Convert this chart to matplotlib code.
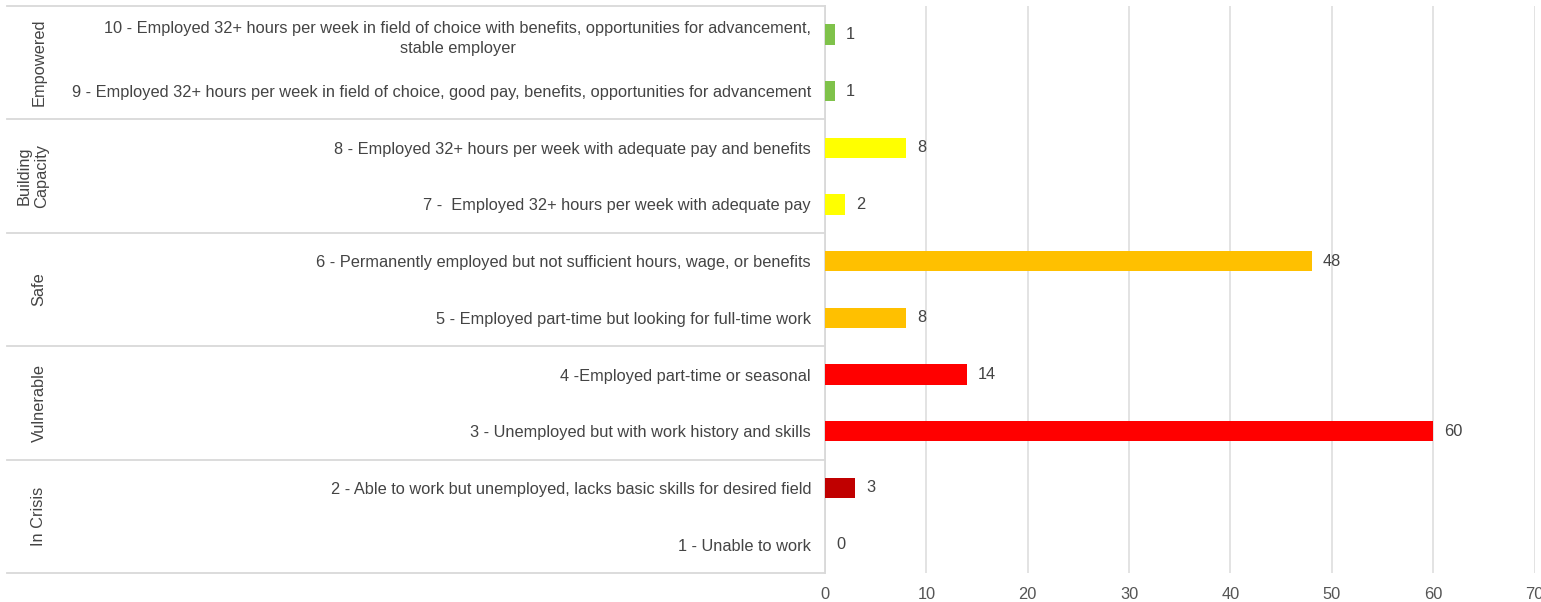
import matplotlib
matplotlib.use("Agg")
import matplotlib.pyplot as plt
import matplotlib.transforms as mtransforms

# Employment scale, level 1 at the bottom
levels = [
    "1 - Unable to work",
    "2 - Able to work but unemployed, lacks basic skills for desired field",
    "3 - Unemployed but with work history and skills",
    "4 -Employed part-time or seasonal",
    "5 - Employed part-time but looking for full-time work",
    "6 - Permanently employed but not sufficient hours, wage, or benefits",
    "7 -  Employed 32+ hours per week with adequate pay",
    "8 - Employed 32+ hours per week with adequate pay and benefits",
    "9 - Employed 32+ hours per week in field of choice, good pay, benefits, opportunities for advancement",
    "10 - Employed 32+ hours per week in field of choice with benefits, opportunities for advancement,\nstable employer",
]
counts = [0, 3, 60, 14, 8, 48, 2, 8, 1, 1]

groups = ["In Crisis", "Vulnerable", "Safe", "Building\nCapacity", "Empowered"]
group_sizes = [2, 2, 2, 2, 2]
group_colors = ["#c00000", "#ff0000", "#ffc000", "#ffff00", "#7fc24a"]

x_ticks = [0, 10, 20, 30, 40, 50, 60, 70]

TEXT = "#444444"
LINE = "#d9d9d9"
FS = 11.8

plt.rcParams["font.family"] = ["Liberation Sans", "DejaVu Sans"]

W, H = 1541, 602
fig = plt.figure(figsize=(W / 100, H / 100), dpi=100)
left, right, top, bottom = 825, 1534.5, 6, 573
ax = fig.add_axes([left / W, 1 - bottom / H, (right - left) / W, (bottom - top) / H])

bar_colors = []
for color, size in zip(group_colors, group_sizes):
    bar_colors += [color] * size

ypos = list(range(len(levels)))
ax.barh(ypos, counts, height=0.36, color=bar_colors, zorder=3)

for y, v in zip(ypos, counts):
    ax.annotate(str(v), (v, y), xytext=(8, 0), textcoords="offset points",
                va="center", ha="left", fontsize=FS, color=TEXT)

ax.set_xlim(0, 70)
ax.set_ylim(-0.5, len(levels) - 0.5)
ax.set_xticks(x_ticks)
ax.set_xticklabels([str(t) for t in x_ticks], fontsize=FS, color="#555555")
ax.set_yticks(ypos)
ax.set_yticklabels(levels, fontsize=FS, color=TEXT, multialignment="center",
                   linespacing=1.4)
ax.tick_params(axis="both", length=0)
ax.tick_params(axis="x", pad=10)
ax.tick_params(axis="y", pad=10)

ax.xaxis.grid(True, color="#e0e0e0", linewidth=1.3, zorder=0)
for side in ["top", "right", "bottom"]:
    ax.spines[side].set_visible(False)
ax.spines["left"].set_color(LINE)
ax.spines["left"].set_linewidth(1.3)

# group separators and rotated group names left of the labels
trans = mtransforms.blended_transform_factory(ax.transAxes, ax.transData)
x_start = -(left - 7) / (right - left)
edge = -0.5
ax.plot([x_start, 0], [edge, edge], transform=trans, color=LINE, lw=1.3, clip_on=False)
for name, size in zip(groups, group_sizes):
    x_px = 33 if "\n" in name else 39
    ax.text(-(left - x_px) / (right - left), edge + size / 2, name,
            transform=trans, rotation=90, ha="center", va="center",
            fontsize=FS, color=TEXT, multialignment="center", linespacing=1.25)
    edge += size
    ax.plot([x_start, 0], [edge, edge], transform=trans, color=LINE, lw=1.3,
            clip_on=False)

fig.savefig("out.png", dpi=100)
